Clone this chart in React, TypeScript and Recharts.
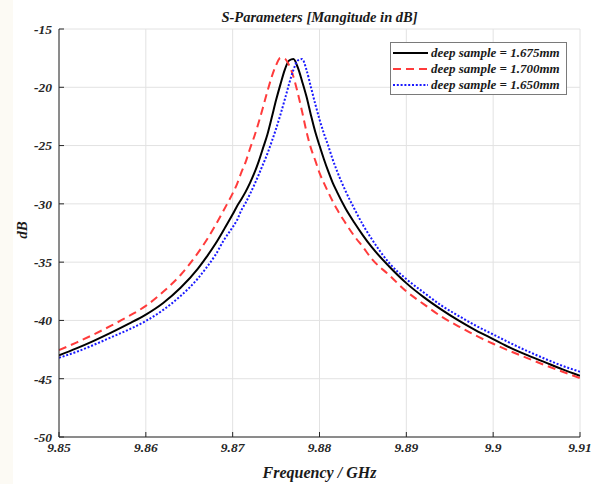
import React from "react";
import { LineChart, Line, XAxis, YAxis, CartesianGrid } from "recharts";

// frequency grid (GHz), finer around the resonance
const freqs = [
  9.85, 9.852, 9.854, 9.856, 9.858, 9.86, 9.862, 9.864, 9.866, 9.867, 9.868,
  9.869, 9.87, 9.8705, 9.871, 9.8715, 9.872, 9.8725, 9.873, 9.8735, 9.874,
  9.8745, 9.875, 9.8755, 9.876, 9.8765, 9.877, 9.8775, 9.878, 9.8785, 9.879,
  9.8795, 9.88, 9.8805, 9.881, 9.8815, 9.882, 9.883, 9.884, 9.885, 9.886,
  9.888, 9.89, 9.892, 9.894, 9.896, 9.898, 9.9, 9.902, 9.904, 9.906, 9.908,
  9.91,
];

// deep sample = 1.675mm (black, solid)
const s1675 = [
  -43.0, -42.4, -41.75, -41.05, -40.3, -39.5, -38.5, -37.2, -35.55, -34.55,
  -33.45, -32.2, -30.9, -30.2, -29.6, -28.95, -28.2, -27.35, -26.35, -25.2,
  -24.05, -22.6, -21.1, -19.75, -18.5, -17.7, -17.58, -18.3, -19.5, -20.8,
  -22.35, -23.8, -25.0, -26.15, -27.2, -28.15, -28.95, -30.4, -31.6, -32.7,
  -33.7, -35.35, -36.8, -38.0, -39.05, -40.0, -40.85, -41.6, -42.35, -43.0,
  -43.6, -44.2, -44.75,
];

// deep sample = 1.700mm (red, dashed)
const s1700 = [
  -42.55, -41.9, -41.2, -40.45, -39.65, -38.75, -37.55, -36.1, -34.2, -33.1,
  -31.85, -30.5, -29.1, -28.3, -27.3, -26.4, -25.25, -24.2, -23.0, -21.7,
  -20.35, -19.1, -18.1, -17.48, -17.55, -18.1, -19.1, -20.5, -22.1, -23.8,
  -25.2, -26.25, -27.35, -28.2, -29.0, -29.75, -30.45, -31.65, -32.75, -33.7,
  -34.7, -36.1, -37.5, -38.6, -39.65, -40.5, -41.3, -42.0, -42.65, -43.25,
  -43.85, -44.4, -44.95,
];

// deep sample = 1.650mm (blue, dotted)
const s1650 = [
  -43.2, -42.7, -42.1, -41.45, -40.8, -40.05, -39.1, -37.9, -36.4, -35.45,
  -34.4, -33.1, -32.0, -31.4, -30.55, -29.9, -29.15, -28.35, -27.5, -26.6,
  -25.7, -24.65, -23.55, -22.35, -21.05, -19.7, -18.5, -17.7, -17.58, -18.5,
  -19.95, -21.4, -22.75, -23.95, -25.0, -26.15, -27.15, -28.9, -30.4, -31.8,
  -33.0, -35.05, -36.45, -37.6, -38.7, -39.6, -40.45, -41.2, -41.95, -42.65,
  -43.3, -43.9, -44.4,
];

const xTicks = [9.85, 9.86, 9.87, 9.88, 9.89, 9.9, 9.91];
const yTicks = [-50, -45, -40, -35, -30, -25, -20, -15];
const seriesNames = [
  "deep sample = 1.675mm",
  "deep sample = 1.700mm",
  "deep sample = 1.650mm",
];

const data = freqs.map((f, i) => ({
  f,
  a: s1675[i],
  b: s1700[i],
  c: s1650[i],
}));

const font = "'Liberation Serif', 'DejaVu Serif', serif";
const axisColor = "#262626";
const tickStyle = {
  fill: axisColor,
  fontSize: 13.5,
  fontFamily: font,
  fontWeight: "bold",
  fontStyle: "italic",
};

const legendRows = [
  { name: seriesNames[0], color: "#000000", dash: undefined },
  { name: seriesNames[1], color: "#ff3b3b", dash: "8 5" },
  { name: seriesNames[2], color: "#1a1aff", dash: "2 1.8" },
];

const textBase: React.CSSProperties = {
  position: "absolute",
  fontFamily: font,
  fontWeight: "bold",
  fontStyle: "italic",
  color: "#1a1a1a",
  whiteSpace: "nowrap",
};

export default function App() {
  return (
    <div
      style={{
        position: "absolute",
        left: 0,
        top: 0,
        width: 599,
        height: 484,
        background: "#ffffff",
        overflow: "hidden",
      }}
    >
      <div
        style={{
          position: "absolute",
          left: 0,
          top: 0,
          width: 13,
          height: 484,
          background: "#fcfaf4",
        }}
      />
      <LineChart
        width={599}
        height={484}
        data={data}
        margin={{ top: 29, right: 19, bottom: 7, left: 0 }}
      >
        <CartesianGrid xAxisId="b" yAxisId="l" stroke="#e2e2e2" />
        <XAxis
          xAxisId="b"
          dataKey="f"
          type="number"
          domain={[9.85, 9.91]}
          ticks={xTicks}
          interval={0}
          allowDataOverflow
          height={40}
          tickSize={-5}
          tickMargin={10}
          stroke={axisColor}
          tick={tickStyle}
        />
        <XAxis
          xAxisId="t"
          orientation="top"
          dataKey="f"
          type="number"
          domain={[9.85, 9.91]}
          ticks={xTicks}
          interval={0}
          allowDataOverflow
          height={0}
          tickSize={-5}
          tick={false}
          stroke={axisColor}
        />
        <YAxis
          yAxisId="l"
          type="number"
          domain={[-50, -15]}
          ticks={yTicks}
          interval={0}
          allowDataOverflow
          width={59}
          tickSize={-5}
          tickMargin={12}
          stroke={axisColor}
          tick={tickStyle}
        />
        <YAxis
          yAxisId="r"
          orientation="right"
          type="number"
          domain={[-50, -15]}
          ticks={yTicks}
          interval={0}
          allowDataOverflow
          width={0}
          tickSize={-5}
          tick={false}
          stroke={axisColor}
        />
        <Line
          xAxisId="b"
          yAxisId="l"
          type="monotone"
          dataKey="a"
          name={seriesNames[0]}
          stroke="#000000"
          strokeWidth={2}
          dot={false}
          isAnimationActive={false}
        />
        <Line
          xAxisId="b"
          yAxisId="l"
          type="monotone"
          dataKey="b"
          name={seriesNames[1]}
          stroke="#ff3b3b"
          strokeWidth={2}
          strokeDasharray="8 5"
          dot={false}
          isAnimationActive={false}
        />
        <Line
          xAxisId="b"
          yAxisId="l"
          type="monotone"
          dataKey="c"
          name={seriesNames[2]}
          stroke="#1a1aff"
          strokeWidth={2}
          strokeDasharray="2 1.8"
          dot={false}
          isAnimationActive={false}
        />
      </LineChart>

      <div
        style={{
          ...textBase,
          left: 59,
          width: 521,
          top: 8,
          textAlign: "center",
          fontSize: 14.5,
          lineHeight: "18px",
        }}
      >
        S-Parameters [Mangitude in dB]
      </div>
      <div
        style={{
          ...textBase,
          left: 59,
          width: 521,
          top: 464,
          textAlign: "center",
          fontSize: 16,
          lineHeight: "18px",
        }}
      >
        Frequency / GHz
      </div>
      <div
        style={{
          ...textBase,
          left: 22 - 40,
          top: 230 - 9,
          width: 80,
          height: 18,
          textAlign: "center",
          fontSize: 15,
          lineHeight: "18px",
          transform: "rotate(-90deg)",
        }}
      >
        dB
      </div>

      <div
        style={{
          position: "absolute",
          left: 390,
          top: 42,
          width: 177,
          height: 53,
          border: "1px solid #7a7a7a",
          background: "#ffffff",
          boxSizing: "border-box",
          paddingTop: 2,
        }}
      >
        {legendRows.map((r) => (
          <div
            key={r.name}
            style={{ display: "flex", alignItems: "center", height: 16 }}
          >
            <svg width={40} height={16} style={{ flex: "none" }}>
              <line
                x1={2}
                x2={37}
                y1={8}
                y2={8}
                stroke={r.color}
                strokeWidth={2}
                strokeDasharray={r.dash}
              />
            </svg>
            <span
              style={{
                fontFamily: font,
                fontWeight: "bold",
                fontStyle: "italic",
                fontSize: 13,
                color: "#1a1a1a",
                whiteSpace: "nowrap",
                lineHeight: "16px",
              }}
            >
              {r.name}
            </span>
          </div>
        ))}
      </div>
    </div>
  );
}
